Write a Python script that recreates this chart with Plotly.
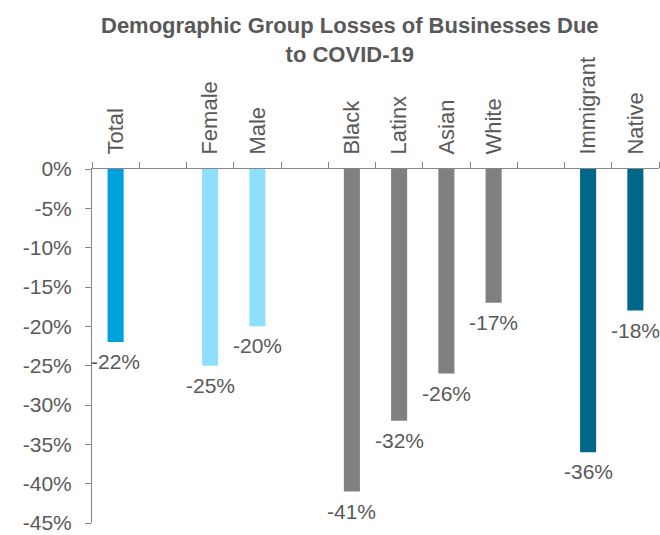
import plotly.graph_objects as go

categories = ["Total", "Female", "Male", "Black", "Latinx", "Asian", "White", "Immigrant", "Native"]
values = [-22, -25, -20, -41, -32, -26, -17, -36, -18]
colors = ["#00A0DC", "#8EDFFF", "#8EDFFF", "#808080", "#808080", "#808080", "#808080", "#00678A", "#00678A"]
axis_order = ["Total", " ", "Female", "Male", "  ", "Black", "Latinx", "Asian", "White", "   ", "Immigrant", "Native"]
y_ticks = [0, -5, -10, -15, -20, -25, -30, -35, -40, -45]
title_lines = ["Demographic Group Losses of Businesses Due", "to COVID-19"]

FONT = "Liberation Sans, Arial, sans-serif"
GRAY = "#595959"
AXIS = "#868686"

W, H = 660, 535
M = dict(l=92, r=1, t=169, b=3)
plot_h = H - M["t"] - M["b"]

fig = go.Figure()
fig.add_trace(go.Bar(x=categories, y=values, marker_color=colors, width=0.34,
                     marker_line_width=0, showlegend=False, hoverinfo="x+y"))

for c, v in zip(categories, values):
    fig.add_annotation(x=c, y=v, text=f"{v}%", showarrow=False, yanchor="top",
                       yshift=-6, font=dict(family=FONT, size=21, color=GRAY))

# title as annotation
fig.add_annotation(xref="paper", yref="paper", x=(350 - M["l"]) / (W - M["l"] - M["r"]),
                   y=1 + (M["t"] - 7) / plot_h, xanchor="center", yanchor="top",
                   text="<b>" + "<br>".join(title_lines) + "</b>", showarrow=False,
                   font=dict(family=FONT, size=22, color=GRAY), align="center")

fig.update_layout(
    width=W, height=H,
    margin=M,
    paper_bgcolor="white", plot_bgcolor="white",
    font=dict(family=FONT, color=GRAY),
)
fig.update_xaxes(type="category", categoryorder="array", categoryarray=axis_order,
                 range=[-0.5, 11.5], side="top", tickson="boundaries", ticks="outside",
                 ticklen=6, tickcolor=AXIS, showline=True, linecolor=AXIS, linewidth=1,
                 tickangle=-90, tickfont=dict(family=FONT, size=22, color=GRAY),
                 ticklabelstandoff=9, showgrid=False, zeroline=False)
fig.update_yaxes(range=[-45, 0], tickvals=y_ticks, ticktext=[f"{t}%" for t in y_ticks],
                 ticks="outside", ticklen=6, tickcolor=AXIS, showline=True, linecolor=AXIS,
                 linewidth=1, tickfont=dict(family=FONT, size=21, color=GRAY),
                 ticklabelstandoff=9, ticklabeloverflow="allow",
                 showgrid=False, zeroline=False)

fig.write_html("out.html", config={"displayModeBar": False},
               post_script="document.body.style.margin='0';")
